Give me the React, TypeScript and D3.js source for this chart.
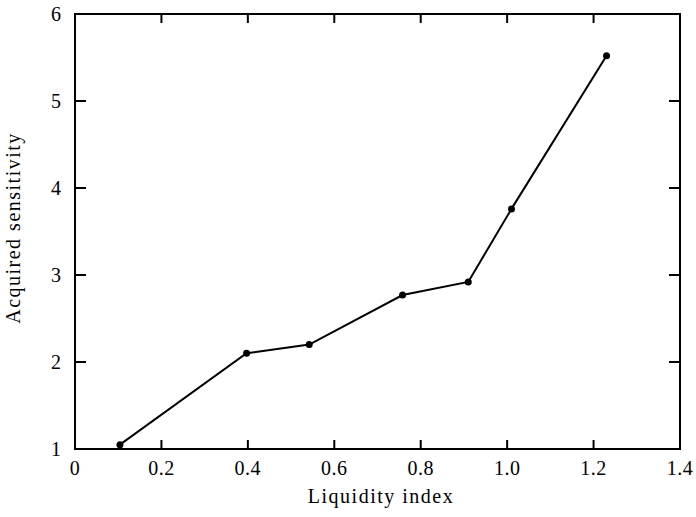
import React from "react";
import * as d3 from "d3";

const liquidityIndex = [0.104, 0.397, 0.542, 0.758, 0.91, 1.01, 1.23];
const sensitivity = [1.05, 2.1, 2.2, 2.77, 2.92, 3.76, 5.52];
const xTicks = [0, 0.2, 0.4, 0.6, 0.8, 1.0, 1.2, 1.4];
const xTickLabels = ["0", "0.2", "0.4", "0.6", "0.8", "1.0", "1.2", "1.4"];
const yTicks = [1, 2, 3, 4, 5, 6];
const yTickLabels = ["1", "2", "3", "4", "5", "6"];

export default function App() {
  const W = 696, H = 517;
  const left = 75, right = 680, top = 14, bottom = 449;
  const x = d3.scaleLinear().domain([0, 1.4]).range([left, right]);
  const y = d3.scaleLinear().domain([1, 6]).range([bottom, top]);
  const pts = liquidityIndex.map((v, i) => [x(v), y(sensitivity[i])] as [number, number]);
  const line = d3.line()(pts) || "";
  const font = "'Liberation Serif', 'DejaVu Serif', serif";
  const tl = 9;
  return (
    <svg width={W} height={H} style={{ position: "absolute", left: 0, top: 0, background: "#fff" }}>
      <rect x={left} y={top} width={right - left} height={bottom - top} fill="none" stroke="#000" strokeWidth={2} />
      {xTicks.slice(1, -1).map((t) => (
        <g key={"xt" + t}>
          <line x1={x(t)} x2={x(t)} y1={bottom} y2={bottom - tl} stroke="#000" strokeWidth={2} />
          <line x1={x(t)} x2={x(t)} y1={top} y2={top + tl} stroke="#000" strokeWidth={2} />
        </g>
      ))}
      {yTicks.slice(1, -1).map((t) => (
        <g key={"yt" + t}>
          <line x1={left} x2={left + tl + 2} y1={y(t)} y2={y(t)} stroke="#000" strokeWidth={2} />
          <line x1={right} x2={right - tl - 2} y1={y(t)} y2={y(t)} stroke="#000" strokeWidth={2} />
        </g>
      ))}
      {xTicks.map((t, i) => (
        <text key={"xl" + t} x={x(t)} y={bottom + 26} textAnchor="middle" fontFamily={font} fontSize={20} letterSpacing={0.5} fill="#000">
          {xTickLabels[i]}
        </text>
      ))}
      {yTicks.map((t, i) => (
        <text key={"yl" + t} x={left - 14} y={y(t) + 7} textAnchor="end" fontFamily={font} fontSize={20} fill="#000">
          {yTickLabels[i]}
        </text>
      ))}
      <text x={381} y={503} textAnchor="middle" fontFamily={font} fontSize={20} letterSpacing={1.5} fill="#000">
        Liquidity index
      </text>
      <text transform={`translate(20, 228) rotate(-90)`} textAnchor="middle" fontFamily={font} fontSize={20} letterSpacing={1.5} fill="#000">
        Acquired sensitivity
      </text>
      <path d={line} fill="none" stroke="#000" strokeWidth={2} />
      {pts.map((p, i) => (
        <circle key={"p" + i} cx={p[0]} cy={p[1]} r={3.5} fill="#000" />
      ))}
    </svg>
  );
}
